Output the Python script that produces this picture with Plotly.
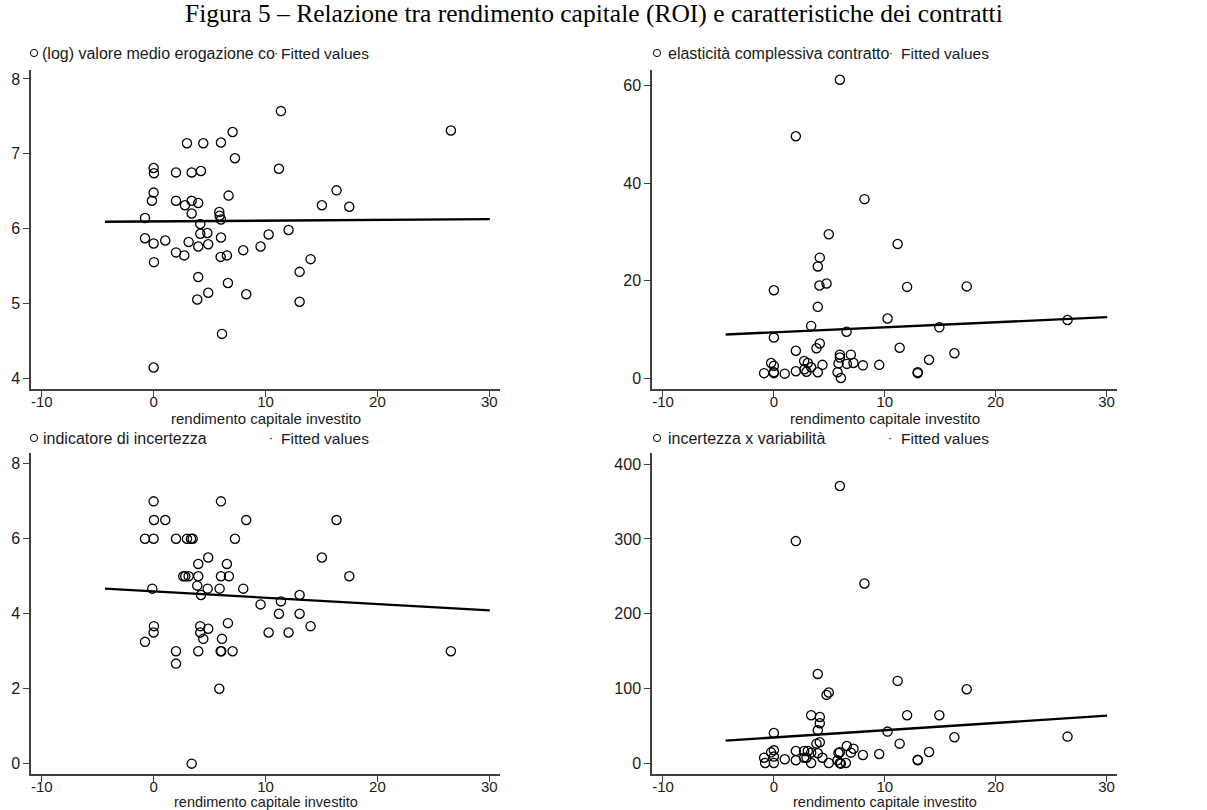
import plotly.graph_objects as go

W, H = 1207, 810

# ---------------- data ----------------
# Panel 1: (log) valore medio erogazione contratto
roi_1 = [11.38, 7.06, 26.57, 2.98, 4.44, 6.02, 7.27, 0.0, 0.03, 2.0, 3.40, 4.23, 11.2, 0.0,
         16.35, 6.70, -0.15, 2.0, 2.80, 3.40, 3.99, 15.04, 17.49, 3.40, 5.87, 5.90, 6.02,
         -0.77, 4.17, 12.06, 4.17, 4.80, 6.02, 10.28, -0.77, 0.0, 1.04, 3.13, 4.88, 3.99,
         9.56, 8.01, 2.0, 2.74, 5.99, 6.55, 0.03, 14.03, 3.99, 13.05, 6.64, 4.88, 8.28,
         3.90, 13.05, 6.11, 0.0]
val_1 = [7.57, 7.29, 7.31, 7.14, 7.14, 7.15, 6.94, 6.81, 6.74, 6.75, 6.75, 6.77, 6.80, 6.48,
         6.51, 6.44, 6.37, 6.37, 6.31, 6.37, 6.34, 6.31, 6.29, 6.20, 6.22, 6.17, 6.12,
         6.14, 6.06, 5.98, 5.93, 5.94, 5.88, 5.92, 5.87, 5.80, 5.84, 5.82, 5.79, 5.76,
         5.76, 5.71, 5.68, 5.64, 5.62, 5.64, 5.55, 5.59, 5.35, 5.42, 5.27, 5.14, 5.12,
         5.05, 5.02, 4.59, 4.14]

# Panel 2: elasticità complessiva contratto
roi_2 = [5.95, 1.98, 8.17, 4.95, 11.16, 4.14, 3.96, 4.75, 4.11, 0.0, 12.01, 17.39, 3.96,
         10.25, 26.48, 3.36, 14.92, 6.55, 0.0, 4.14, 3.84, 11.34, 1.98, 16.28, 5.95, 6.94,
         5.95, 2.73, 13.99, -0.25, 3.06, 5.83, 6.58, 7.18, 9.50, 8.03, 4.38, 0.0, 3.36,
         2.76, 2.94, 1.98, 3.96, 5.74, 0.0, 0.0, -0.88, 0.98, 12.97, 12.97, 6.04]
val_2 = [61.2, 49.6, 36.7, 29.5, 27.5, 24.7, 22.9, 19.4, 19.0, 18.0, 18.7, 18.8, 14.6,
         12.2, 11.9, 10.7, 10.4, 9.5, 8.3, 7.1, 6.1, 6.2, 5.6, 5.1, 4.8, 4.8,
         4.2, 3.5, 3.75, 3.1, 3.1, 3.0, 2.9, 3.1, 2.7, 2.6, 2.7, 2.5, 2.2,
         1.8, 1.3, 1.4, 1.2, 1.2, 1.2, 1.0, 1.0, 0.9, 1.2, 1.0, 0.0]

# Panel 3: indicatore di incertezza
roi_3 = [0.0, 6.02, 0.03, 1.04, 8.28, 16.35, -0.77, 0.0, 2.0, 2.98, 3.34, 3.49, 7.27, 4.88,
         15.04, 3.99, 6.55, 2.65, 2.83, 3.13, 3.99, 6.02, 6.73, 17.49, 3.90, -0.12, 4.83,
         5.90, 8.01, 4.23, 13.05, 11.38, 9.56, 11.2, 13.05, 0.03, 4.17, 14.03, 6.64, 4.88,
         0.0, 4.17, 10.28, 12.06, 4.44, 6.11, -0.77, 2.0, 3.99, 5.99, 6.05, 7.06, 26.57,
         2.0, 5.87, 3.40]
val_3 = [7.0, 7.0, 6.5, 6.5, 6.5, 6.5, 6.0, 6.0, 6.0, 6.0, 6.0, 6.0, 6.0, 5.5,
         5.5, 5.33, 5.33, 5.0, 5.0, 5.0, 5.0, 5.0, 5.0, 5.0, 4.75, 4.67, 4.67,
         4.67, 4.67, 4.5, 4.5, 4.33, 4.25, 4.0, 4.0, 3.67, 3.67, 3.67, 3.75, 3.6,
         3.5, 3.5, 3.5, 3.5, 3.33, 3.33, 3.25, 3.0, 3.0, 3.0, 3.0, 3.0, 3.0,
         2.67, 2.0, 0.0]

# Panel 4: incertezza x variabilità
roi_4 = [5.95, 1.98, 8.17, 3.96, 11.16, 17.39, 4.95, 4.75, 3.36, 12.01, 14.92, 4.14, 4.14,
         3.96, 10.25, 0.0, 16.28, 26.48, 11.34, 4.14, 3.84, 6.58, 7.18, 1.98, 2.73, 3.06,
         5.95, 5.83, 6.94, 0.0, -0.25, 3.36, 13.99, 3.96, 9.50, 8.03, 0.0, 4.38, 2.73,
         2.94, -0.88, 0.98, 1.98, 5.74, 12.97, 12.97, 0.0, -0.79, 3.36, 4.95, 5.95, 6.04,
         6.49]
val_4 = [370.6, 297.1, 240.5, 119.8, 110.5, 99.3, 94.9, 91.8, 64.6, 64.6, 64.6, 62.4, 53.9,
         44.5, 42.8, 41.0, 35.2, 36.1, 26.7, 28.5, 26.7, 23.6, 20.0, 16.9, 16.9, 16.9,
         15.1, 14.3, 14.7, 17.8, 15.1, 14.7, 15.6, 13.8, 12.9, 11.6, 9.4, 8.0, 8.0,
         8.0, 8.0, 5.8, 4.5, 4.5, 5.3, 4.5, 0.9, 0.9, 0.9, 0.9, 0.9, 0.0,
         0.9]

# Fitted values (end points of the linear fits as read)
fit_x = [-4.35, 30.05]
fit_1 = [6.09, 6.125]
fit_2 = [8.93, 12.48]
fit_3 = [4.67, 4.09]
fit_4 = [30.7, 64.1]

series_labels = ["(log) valore medio erogazione co", "elasticità complessiva contratto",
                 "indicatore di incertezza", "incertezza x variabilità"]
fit_label = "Fitted values"
x_title = "rendimento capitale investito"
title = "Figura 5 – Relazione tra rendimento capitale (ROI) e caratteristiche dei contratti"

x_ticks = [-10, 0, 10, 20, 30]
y_ticks_1 = [4, 5, 6, 7, 8]
y_ticks_2 = [0, 20, 40, 60]
y_ticks_3 = [0, 2, 4, 6, 8]
y_ticks_4 = [0, 100, 200, 300, 400]

# ---------------- layout geometry (pixels) ----------------
# xt = centre of the x-axis title (px from top), fs = its font size
panels = [
    dict(x=(31, 500), y=(70, 389), xr=(-10.96, 30.96), yr=(3.853, 8.12), ticks=y_ticks_1,
         data=(roi_1, val_1), fit=fit_1, leg=(34, 40, 276, 279, 53), xt=418, fs=15),
    dict(x=(652, 1117), y=(70, 389), xr=(-10.99, 30.94), yr=(-2.25, 63.2), ticks=y_ticks_2,
         data=(roi_2, val_2), fit=fit_2, leg=(657, 666, 891, 899, 53), xt=418, fs=15),
    dict(x=(31, 500), y=(453, 774), xr=(-10.96, 30.96), yr=(-0.276, 8.29), ticks=y_ticks_3,
         data=(roi_3, val_3), fit=fit_3, leg=(34, 41, 271, 279, 438), xt=801.5, fs=14.5),
    dict(x=(652, 1117), y=(453, 774), xr=(-10.99, 30.94), yr=(-13.8, 414.7), ticks=y_ticks_4,
         data=(roi_4, val_4), fit=fit_4, leg=(657, 666, 890, 899, 438), xt=801.5, fs=14.5),
]

def px(v):
    return v / W

def py(v):
    return 1 - v / H

AX = "#404040"
TXT = "#1a1a1a"
FONT = "Liberation Sans, Arial, sans-serif"

fig = go.Figure()
layout = dict(
    width=W, height=H, margin=dict(l=0, r=0, t=0, b=0),
    paper_bgcolor="white", plot_bgcolor="white", showlegend=False,
    font=dict(family=FONT, size=16, color=TXT),
)
annotations = []
shapes = []

for i, p in enumerate(panels, start=1):
    xa = "x" if i == 1 else f"x{i}"
    ya = "y" if i == 1 else f"y{i}"
    xs, ys = p["data"]
    fig.add_trace(go.Scatter(
        x=xs, y=ys, mode="markers", xaxis=xa, yaxis=ya,
        marker=dict(symbol="circle-open", size=9.2, color="black", line=dict(width=1.3, color="black")),
    ))
    fig.add_trace(go.Scatter(
        x=fit_x, y=p["fit"], mode="lines", xaxis=xa, yaxis=ya,
        line=dict(color="black", width=2.3),
    ))
    common = dict(showgrid=False, zeroline=False, showline=True, linecolor=AX, linewidth=1.5,
                  ticks="outside", ticklen=6, tickwidth=1.2, tickcolor=AX)
    layout["xaxis" if i == 1 else f"xaxis{i}"] = dict(
        domain=[px(p["x"][0]), px(p["x"][1])], range=list(p["xr"]), anchor=ya,
        tickvals=x_ticks, ticktext=[str(t) for t in x_ticks], ticklabelstandoff=-8,
        tickfont=dict(family=FONT, size=15, color=TXT),
        **common)
    layout["yaxis" if i == 1 else f"yaxis{i}"] = dict(
        domain=[py(p["y"][1]), py(p["y"][0])], range=list(p["yr"]), anchor=xa,
        tickvals=p["ticks"], ticktext=[str(t) for t in p["ticks"]],
        tickfont=dict(family=FONT, size=16, color=TXT),
        **common)
    # x-axis title
    annotations.append(dict(text=x_title, xref="paper", yref="paper",
                            x=px((p["x"][0] + p["x"][1]) / 2), y=py(p["xt"]),
                            xanchor="center", yanchor="middle", showarrow=False,
                            font=dict(family=FONT, size=p["fs"], color=TXT)))
    # legend
    cx, tx, dx, fx, ly = p["leg"]
    r = 3.6
    shapes.append(dict(type="circle", xref="paper", yref="paper",
                       x0=px(cx - r), x1=px(cx + r), y0=py(ly + r), y1=py(ly - r),
                       line=dict(color="black", width=1)))
    annotations.append(dict(text=series_labels[i - 1], xref="paper", yref="paper",
                            x=px(tx), y=py(ly), xanchor="left", yanchor="middle",
                            showarrow=False, font=dict(family=FONT, size=16, color=TXT)))
    annotations.append(dict(text="·", xref="paper", yref="paper",
                            x=px(dx), y=py(ly), xanchor="center", yanchor="middle",
                            showarrow=False, font=dict(family=FONT, size=12, color="black")))
    annotations.append(dict(text=fit_label, xref="paper", yref="paper",
                            x=px(fx), y=py(ly), xanchor="left", yanchor="middle",
                            showarrow=False, font=dict(family=FONT, size=15.5, color=TXT)))

annotations.append(dict(text=title, xref="paper", yref="paper", x=px(594), y=py(13),
                        xanchor="center", yanchor="middle", showarrow=False,
                        font=dict(family="Liberation Serif, Times New Roman, serif", size=25.5,
                                  color="black")))

layout["annotations"] = annotations
layout["shapes"] = shapes
fig.update_layout(**layout)
fig.write_html("out.html")
